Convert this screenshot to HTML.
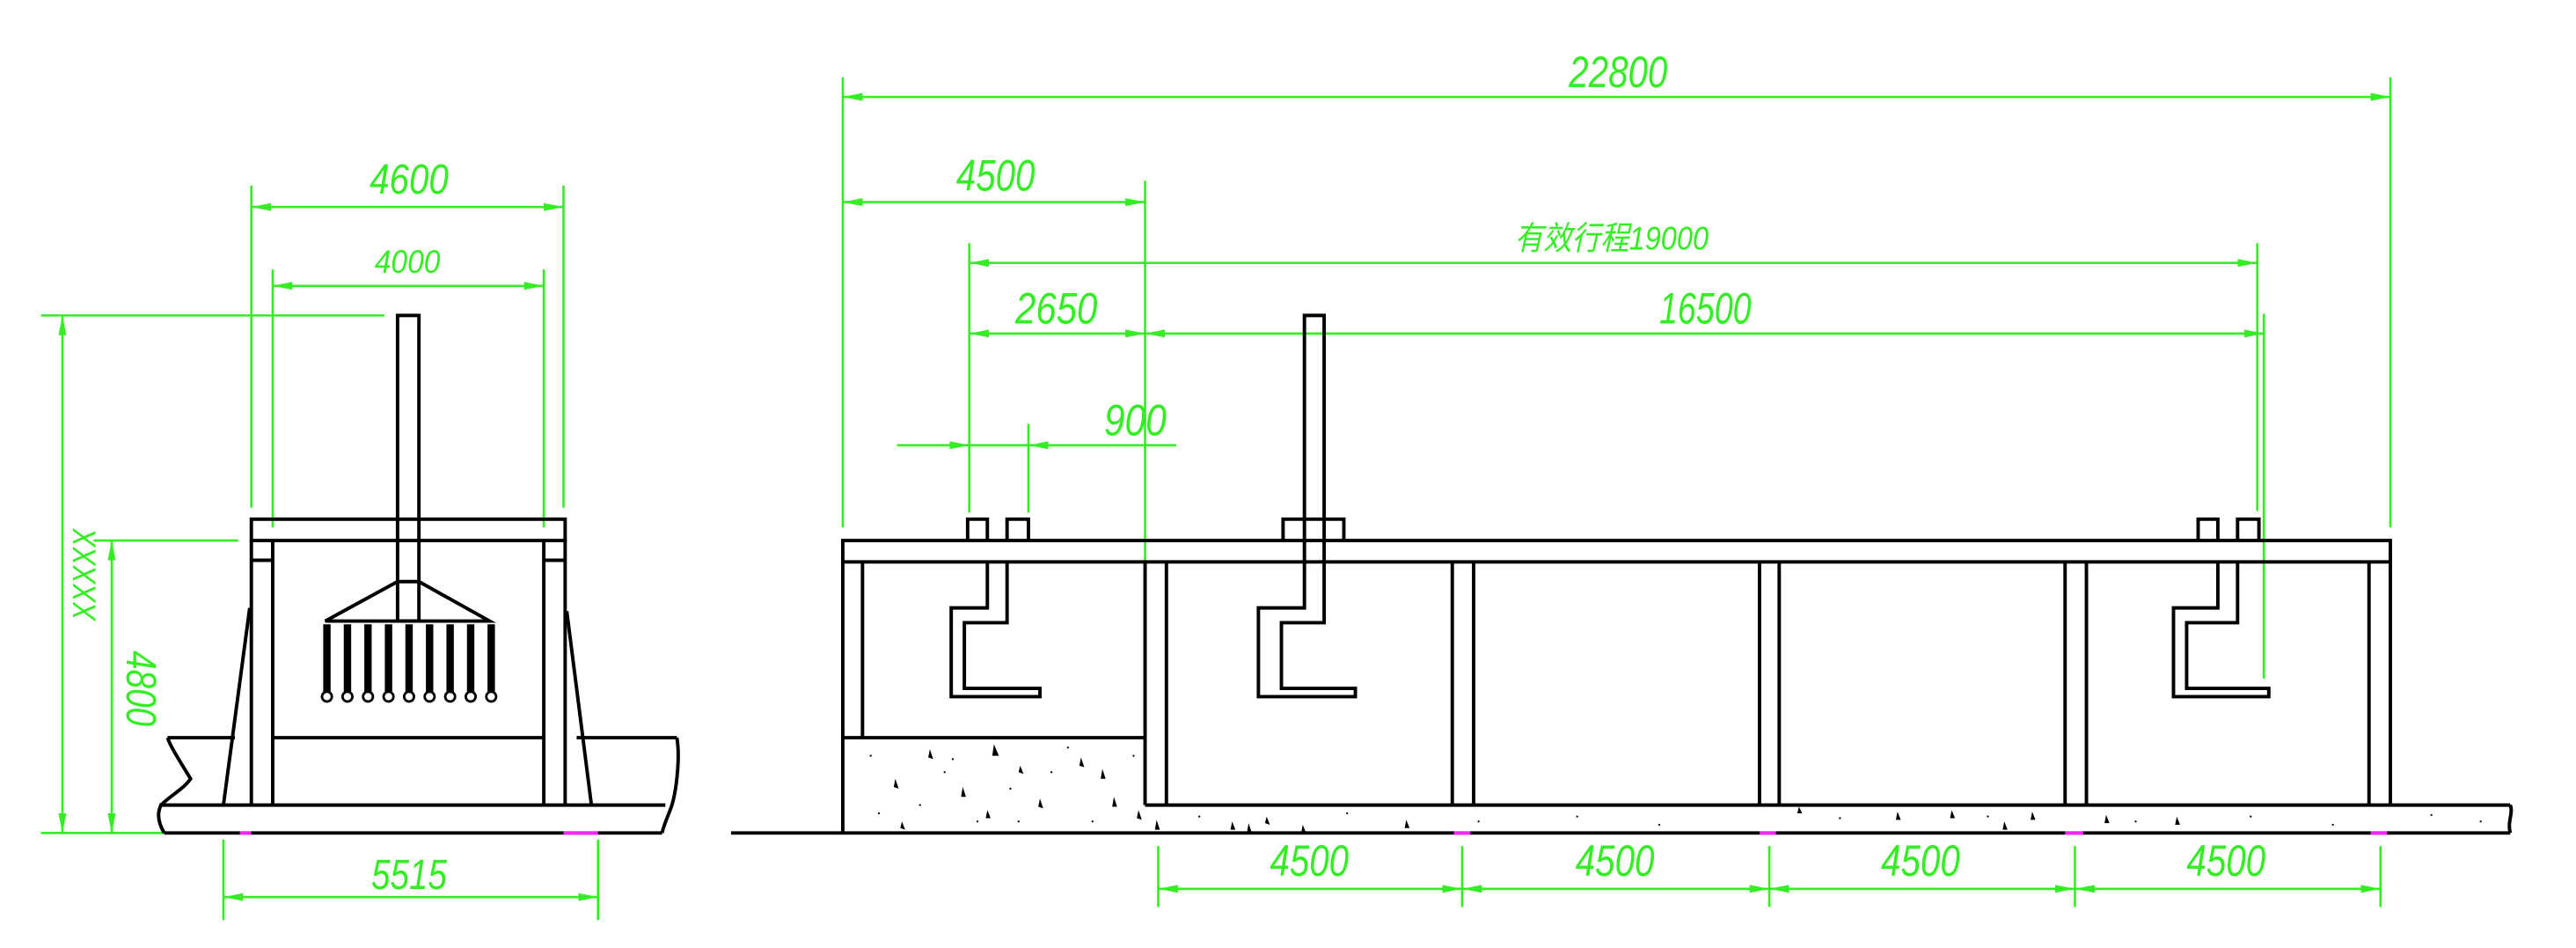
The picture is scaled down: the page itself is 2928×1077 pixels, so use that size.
<!DOCTYPE html>
<html><head><meta charset="utf-8"><style>
html,body{margin:0;padding:0;background:#fff;}
svg{display:block;}
.g{stroke:#33ee22;stroke-width:1.4;fill:none;}
.k{stroke:#000;stroke-width:2.1;fill:none;}
.t{fill:#33ee22;font-family:"Liberation Sans","Noto Sans CJK SC",sans-serif;font-style:italic;}
</style></head><body>
<svg width="2928" height="1077" viewBox="0 0 1568 577" preserveAspectRatio="none" xmlns="http://www.w3.org/2000/svg">
<defs>
<marker id="a" viewBox="0 0 12 6" refX="12" refY="3" markerWidth="12" markerHeight="6" markerUnits="userSpaceOnUse" orient="auto-start-reverse">
<path d="M0,0.6 L12,3 L0,5.4 Z" fill="#33ee22"/></marker>
</defs>
<rect width="1568" height="577" fill="#fff"/>

<!-- ===== LEFT VIEW ===== -->
<g class="g">
<line x1="153" y1="113" x2="153" y2="309"/><line x1="343" y1="113" x2="343" y2="309"/>
<line x1="153" y1="126" x2="343" y2="126" marker-start="url(#a)" marker-end="url(#a)"/>
<line x1="166" y1="164" x2="166" y2="321"/><line x1="331" y1="164" x2="331" y2="321"/>
<line x1="166" y1="174" x2="331" y2="174" marker-start="url(#a)" marker-end="url(#a)"/>
<line x1="25" y1="192" x2="234" y2="192"/>
<line x1="25" y1="507" x2="100" y2="507"/>
<line x1="38" y1="192" x2="38" y2="507" marker-start="url(#a)" marker-end="url(#a)"/>
<line x1="57" y1="329" x2="145" y2="329"/>
<line x1="68" y1="329" x2="68" y2="507" marker-start="url(#a)" marker-end="url(#a)"/>
<line x1="136" y1="511" x2="136" y2="560"/><line x1="364" y1="511" x2="364" y2="560"/>
<line x1="136" y1="546" x2="364" y2="546" marker-start="url(#a)" marker-end="url(#a)"/>
</g>
<text class="t" x="249" y="118" font-size="26" text-anchor="middle" textLength="48" lengthAdjust="spacingAndGlyphs">4600</text>
<text class="t" x="248" y="166" font-size="20" text-anchor="middle" textLength="40" lengthAdjust="spacingAndGlyphs">4000</text>
<text class="t" x="249" y="541" font-size="26" text-anchor="middle" textLength="46" lengthAdjust="spacingAndGlyphs">5515</text>
<text class="t" font-size="20" text-anchor="middle" transform="translate(58,350) rotate(-90)" textLength="56" lengthAdjust="spacingAndGlyphs">XXXXX</text>
<text class="t" font-size="26" text-anchor="middle" transform="translate(77,419) rotate(90)" textLength="46" lengthAdjust="spacingAndGlyphs">4800</text>

<g class="k">
<rect x="153" y="316" width="191" height="13"/>
<line x1="153" y1="329" x2="153" y2="490"/><line x1="166" y1="329" x2="166" y2="490"/>
<line x1="331" y1="329" x2="331" y2="490"/><line x1="344" y1="329" x2="344" y2="490"/>
<line x1="153" y1="341" x2="166" y2="341"/><line x1="331" y1="341" x2="344" y2="341"/>
<rect x="242" y="192" width="13" height="186"/>
<line x1="242" y1="354" x2="255" y2="354"/>
<path d="M242,354 L198,378 L298,378 L255,354"/>
<line x1="166" y1="449" x2="331" y2="449"/>
<path d="M102,449 L143,449 M351,449 L412,449"/>
<path d="M152,370 L136,490 M345,372 L360,490"/>
<path d="M102,449 C104,455 110,464 116,474 C112,480 104,484 98,490 C95,496 97,502 100,507"/>
<path d="M412,449 C414,460 412,480 409,490 C407,496 404,502 403,507"/>
<line x1="97" y1="490" x2="405" y2="490"/>
<line x1="100" y1="507" x2="403" y2="507"/>
</g>
<g stroke="#000" stroke-width="4.5">
<line x1="199" y1="380" x2="199" y2="421"/><line x1="211.5" y1="380" x2="211.5" y2="421"/>
<line x1="224" y1="380" x2="224" y2="421"/><line x1="236.5" y1="380" x2="236.5" y2="421"/>
<line x1="249" y1="380" x2="249" y2="421"/><line x1="261.5" y1="380" x2="261.5" y2="421"/>
<line x1="274" y1="380" x2="274" y2="421"/><line x1="286.5" y1="380" x2="286.5" y2="421"/>
<line x1="299" y1="380" x2="299" y2="421"/>
</g>
<g fill="#fff" stroke="#000" stroke-width="1.5">
<circle cx="199" cy="424" r="3"/><circle cx="211.5" cy="424" r="3"/><circle cx="224" cy="424" r="3"/>
<circle cx="236.5" cy="424" r="3"/><circle cx="249" cy="424" r="3"/><circle cx="261.5" cy="424" r="3"/>
<circle cx="274" cy="424" r="3"/><circle cx="286.5" cy="424" r="3"/><circle cx="299" cy="424" r="3"/>
</g>
<g stroke="#ff22ff" stroke-width="2"><line x1="146" y1="507" x2="153" y2="507"/><line x1="343" y1="507" x2="364" y2="507"/></g>

<!-- ===== RIGHT VIEW ===== -->
<g class="g">
<line x1="513" y1="47" x2="513" y2="321"/><line x1="1455" y1="47" x2="1455" y2="321"/>
<line x1="513" y1="59" x2="1455" y2="59" marker-start="url(#a)" marker-end="url(#a)"/>
<line x1="697" y1="110" x2="697" y2="484"/>
<line x1="513" y1="123" x2="697" y2="123" marker-start="url(#a)" marker-end="url(#a)"/>
<line x1="590" y1="148" x2="590" y2="312"/><line x1="1374" y1="148" x2="1374" y2="311"/>
<line x1="590" y1="160" x2="1374" y2="160" marker-start="url(#a)" marker-end="url(#a)"/>
<line x1="590" y1="203" x2="697" y2="203" marker-start="url(#a)" marker-end="url(#a)"/>
<line x1="697" y1="203" x2="1378" y2="203" marker-start="url(#a)" marker-end="url(#a)"/>
<line x1="1378" y1="191" x2="1378" y2="413"/>
<line x1="626" y1="258" x2="626" y2="312"/>
<line x1="546" y1="271" x2="590" y2="271" marker-end="url(#a)"/>
<line x1="716" y1="271" x2="626" y2="271" marker-end="url(#a)"/>
<line x1="590" y1="271" x2="626" y2="271"/>
<line x1="705" y1="515" x2="705" y2="552"/><line x1="890" y1="515" x2="890" y2="552"/>
<line x1="1077" y1="515" x2="1077" y2="552"/><line x1="1263" y1="515" x2="1263" y2="552"/>
<line x1="1449" y1="515" x2="1449" y2="552"/>
<line x1="705" y1="541" x2="890" y2="541" marker-start="url(#a)" marker-end="url(#a)"/>
<line x1="890" y1="541" x2="1077" y2="541" marker-start="url(#a)" marker-end="url(#a)"/>
<line x1="1077" y1="541" x2="1263" y2="541" marker-start="url(#a)" marker-end="url(#a)"/>
<line x1="1263" y1="541" x2="1449" y2="541" marker-start="url(#a)" marker-end="url(#a)"/>
</g>
<text class="t" x="985" y="53" font-size="27" text-anchor="middle" textLength="60" lengthAdjust="spacingAndGlyphs">22800</text>
<text class="t" x="606" y="116" font-size="27" text-anchor="middle" textLength="48" lengthAdjust="spacingAndGlyphs">4500</text>
<text class="t" x="981" y="152" font-size="20" text-anchor="middle" textLength="118" lengthAdjust="spacingAndGlyphs">有效行程19000</text>
<text class="t" x="643" y="197" font-size="27" text-anchor="middle" textLength="50" lengthAdjust="spacingAndGlyphs">2650</text>
<text class="t" x="1038" y="197" font-size="27" text-anchor="middle" textLength="56" lengthAdjust="spacingAndGlyphs">16500</text>
<text class="t" x="691" y="265" font-size="27" text-anchor="middle" textLength="38" lengthAdjust="spacingAndGlyphs">900</text>
<text class="t" x="797" y="533" font-size="27" text-anchor="middle" textLength="48" lengthAdjust="spacingAndGlyphs">4500</text>
<text class="t" x="983" y="533" font-size="27" text-anchor="middle" textLength="48" lengthAdjust="spacingAndGlyphs">4500</text>
<text class="t" x="1169" y="533" font-size="27" text-anchor="middle" textLength="48" lengthAdjust="spacingAndGlyphs">4500</text>
<text class="t" x="1355" y="533" font-size="27" text-anchor="middle" textLength="48" lengthAdjust="spacingAndGlyphs">4500</text>

<g class="k">
<rect x="513" y="329" width="942" height="13"/>
<line x1="513" y1="342" x2="513" y2="507"/><line x1="525" y1="342" x2="525" y2="449"/>
<line x1="513" y1="449" x2="697" y2="449"/>
<line x1="697" y1="449" x2="697" y2="490"/>
<line x1="697" y1="342" x2="697" y2="449"/><line x1="710" y1="342" x2="710" y2="490"/>
<line x1="884" y1="342" x2="884" y2="490"/><line x1="897" y1="342" x2="897" y2="490"/>
<line x1="1071" y1="342" x2="1071" y2="490"/><line x1="1083" y1="342" x2="1083" y2="490"/>
<line x1="1257" y1="342" x2="1257" y2="490"/><line x1="1270" y1="342" x2="1270" y2="490"/>
<line x1="1442" y1="342" x2="1442" y2="490"/><line x1="1455" y1="342" x2="1455" y2="490"/>
<line x1="697" y1="490" x2="1528" y2="490"/>
<line x1="445" y1="507" x2="1528" y2="507"/>
<path d="M1528,490 C1530,495 1526,500 1528,507"/>
<path d="M589,329 V316 H601 V329 M613,329 V316 H626 V329"/>
<path d="M601,342 V370 H579 V424 H633 V419 H587 V379 H613 V342"/>
<path d="M781,329 V316 H818 V329"/>
<path d="M794,192 H806 V379 H780 V419 H825 V424 H766 V370 H794 Z"/>
<path d="M1338,329 V316 H1350 V329 M1362,329 V316 H1375 V329"/>
<path d="M1350,342 V370 H1323 V424 H1381 V419 H1331 V379 H1362 V342"/>
</g>
<g stroke="#ff22ff" stroke-width="2">
<line x1="885" y1="507" x2="895" y2="507"/><line x1="1071" y1="507" x2="1081" y2="507"/>
<line x1="1257" y1="507" x2="1268" y2="507"/><line x1="1443" y1="507" x2="1453" y2="507"/>
</g>
<g fill="#000">
<path d="M566,456 l2,6 l-3,-1z M605,453 l3,7 l-4,0z M621,466 l2,5 l-3,-1z M658,461 l2,6 l-3,-1z M671,468 l2,6 l-3,0z M545,474 l2,6 l-3,-1z M586,479 l2,6 l-3,0z M601,493 l2,5 l-3,0z M633,486 l2,6 l-3,-1z M678,485 l2,6 l-3,0z M693,493 l2,6 l-3,-1z M549,500 l2,5 l-3,-1z M704,499 l2,6 l-3,0z M750,500 l2,5 l-3,0z M760,501 l2,6 l-3,0z M771,497 l2,5 l-3,-1z M793,502 l2,5 l-3,0z M856,499 l2,5 l-3,0z M1095,491 l2,4 l-3,0z M1155,494 l2,5 l-3,0z M1188,493 l2,5 l-3,0z M1237,494 l2,5 l-3,0z M1282,496 l2,5 l-3,0z M1220,500 l2,5 l-3,0z M1325,497 l2,5 l-3,0z"/>
<circle cx="530" cy="460" r=".6"/><circle cx="575" cy="470" r=".6"/><circle cx="615" cy="480" r=".6"/><circle cx="560" cy="490" r=".6"/><circle cx="640" cy="470" r=".6"/><circle cx="665" cy="500" r=".6"/><circle cx="690" cy="460" r=".6"/><circle cx="535" cy="495" r=".6"/><circle cx="595" cy="500" r=".6"/><circle cx="650" cy="455" r=".6"/><circle cx="620" cy="500" r=".6"/><circle cx="580" cy="462" r=".6"/><circle cx="730" cy="497" r=".6"/><circle cx="820" cy="495" r=".6"/><circle cx="900" cy="500" r=".6"/><circle cx="960" cy="497" r=".6"/><circle cx="1010" cy="502" r=".6"/><circle cx="1120" cy="498" r=".6"/><circle cx="1210" cy="497" r=".6"/><circle cx="1300" cy="500" r=".6"/><circle cx="1370" cy="497" r=".6"/><circle cx="1420" cy="502" r=".6"/><circle cx="1480" cy="496" r=".6"/><circle cx="1510" cy="500" r=".6"/>
</g>
</svg>
</body></html>
